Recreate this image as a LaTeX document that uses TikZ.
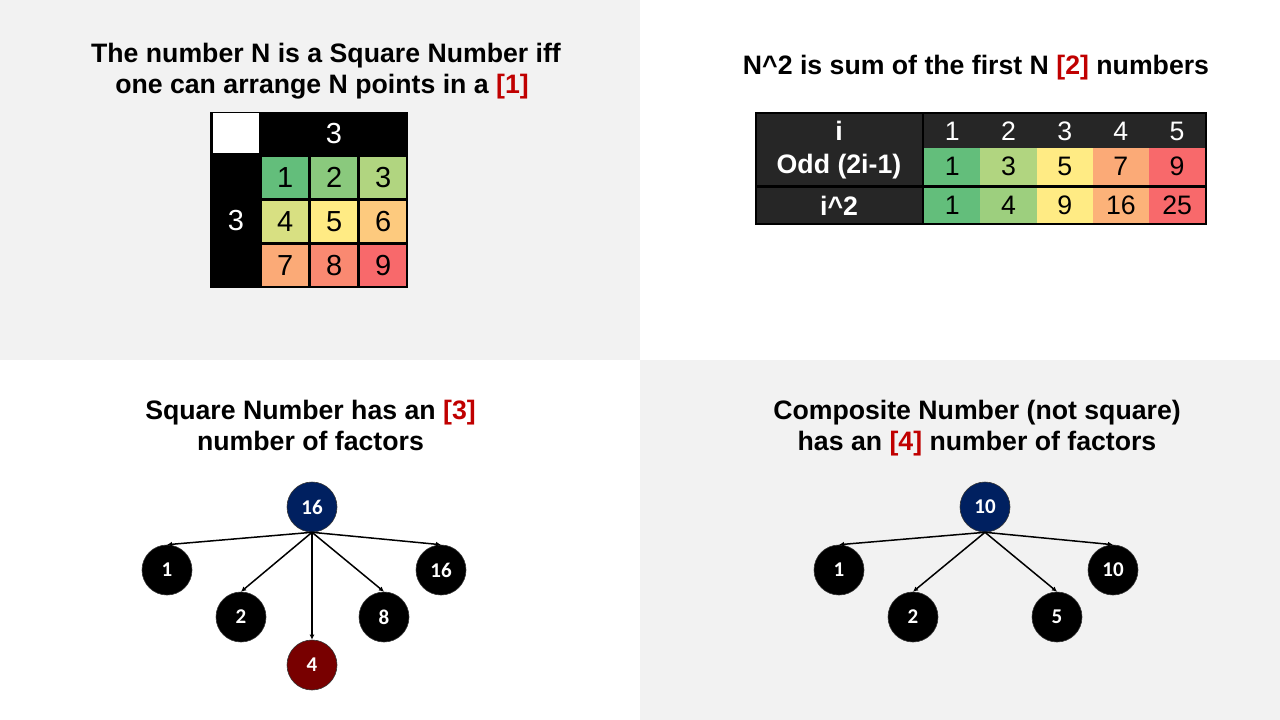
\documentclass[tikz,border=0pt]{standalone}
\usepackage{fontspec}
\setmainfont{Liberation Sans}
\newfontfamily\calfont{Carlito}
\usetikzlibrary{arrows.meta}
\definecolor{panelgray}{HTML}{F2F2F2}
\definecolor{hilite}{HTML}{C00000}
\definecolor{tabdark}{HTML}{262626}
\definecolor{navy}{HTML}{002060}
\definecolor{maroon}{HTML}{780000}
\definecolor{cA}{HTML}{63BE7B}
\definecolor{cB}{HTML}{8AC97D}
\definecolor{cC}{HTML}{B1D580}
\definecolor{cD}{HTML}{D8E082}
\definecolor{cE}{HTML}{FFEB84}
\definecolor{cF}{HTML}{FDCA7E}
\definecolor{cG}{HTML}{FBAA77}
\definecolor{cH}{HTML}{FA8971}
\definecolor{cI}{HTML}{F8696B}
\definecolor{cJ}{HTML}{9DCF7E}
\definecolor{cK}{HTML}{FCB279}
\tikzset{
  title/.style={anchor=base, inner sep=0pt, font=\fontsize{26.67}{30}\selectfont\bfseries},
  gridcell/.style={minimum width=46pt, minimum height=41pt, inner sep=0pt, anchor=north west, font=\fontsize{29}{32}\selectfont},
  tabcell/.style={minimum width=56.2pt, inner sep=0pt, anchor=north west, font=\fontsize{26.7}{30}\selectfont},
  tablabel/.style={inner sep=0pt, text=white, font=\fontsize{26.7}{30}\selectfont\bfseries},
  treenode/.style={circle, minimum size=50pt, inner sep=0pt, fill=black, draw=black!80, line width=0.6pt, text=white, font=\calfont\fontsize{21}{24}\selectfont\bfseries},
  tree/.style={-{Latex[length=5pt,width=5pt]}, line width=1.5pt, black},
}
\begin{document}
\begin{tikzpicture}[x=1pt,y=-1pt]
\useasboundingbox (0,0) rectangle (1280,720);
\fill[panelgray] (0,0) rectangle (640,360);
\fill[panelgray] (640,360) rectangle (1280,720);

% ---- top-left: titles
\node[title] (t1a) at (326,62) {The number N is a Square Number iff};
\node[title] (t1b) at (322,93) {one can arrange N points in a \textcolor{hilite}{[1]}};

% ---- grid
\fill[black] (210,112) rectangle (408,288);
\fill[white] (213,113) rectangle (259,153);
\node[inner sep=0pt, text=white, font=\fontsize{29}{32}\selectfont] (gtop) at (334,134) {3};
\node[inner sep=0pt, text=white, font=\fontsize{29}{32}\selectfont] (gleft) at (236,221) {3};
\node[gridcell, fill=cA] (g1) at (262,157) {1};
\node[gridcell, fill=cB] (g2) at (311,157) {2};
\node[gridcell, fill=cC] (g3) at (360,157) {3};
\node[gridcell, fill=cD] (g4) at (262,201) {4};
\node[gridcell, fill=cE] (g5) at (311,201) {5};
\node[gridcell, fill=cF] (g6) at (360,201) {6};
\node[gridcell, fill=cG] (g7) at (262,245) {7};
\node[gridcell, fill=cH] (g8) at (311,245) {8};
\node[gridcell, fill=cI] (g9) at (360,245) {9};

% ---- top-right title
\node[title] (t2) at (976,74) {N\^{}2 is sum of the first N \textcolor{hilite}{[2]} numbers};

% ---- table
\fill[tabdark] (756,113) rectangle (1206,224);
\node[tabcell, minimum height=37pt, fill=cA] (o1) at (924,148) {1};
\node[tabcell, minimum height=37pt, fill=cC] (o2) at (980.2,148) {3};
\node[tabcell, minimum height=37pt, fill=cE] (o3) at (1036.4,148) {5};
\node[tabcell, minimum height=37pt, fill=cG] (o4) at (1092.6,148) {7};
\node[tabcell, minimum height=37pt, fill=cI] (o5) at (1148.8,148) {9};
\node[tabcell, minimum height=35pt, fill=cA] (s1) at (924,188) {1};
\node[tabcell, minimum height=35pt, fill=cJ] (s2) at (980.2,188) {4};
\node[tabcell, minimum height=35pt, fill=cE] (s3) at (1036.4,188) {9};
\node[tabcell, minimum height=35pt, fill=cK] (s4) at (1092.6,188) {16};
\node[tabcell, minimum height=35pt, fill=cI] (s5) at (1148.8,188) {25};
\node[tabcell, minimum height=34pt, text=white] (h1) at (924,114) {1};
\node[tabcell, minimum height=34pt, text=white] (h2) at (980.2,114) {2};
\node[tabcell, minimum height=34pt, text=white] (h3) at (1036.4,114) {3};
\node[tabcell, minimum height=34pt, text=white] (h4) at (1092.6,114) {4};
\node[tabcell, minimum height=34pt, text=white] (h5) at (1148.8,114) {5};
\node[tablabel] (li) at (839,131) {i};
\node[tablabel] (lo) at (839,167) {Odd (2i-1)};
\node[tablabel] (ls) at (839,206) {i\^{}2};
\draw[black, line width=2.5pt] (923,113) -- (923,224);
\draw[black, line width=2.5pt] (756,186.5) -- (1206,186.5);
\draw[black, line width=2pt] (756,113) rectangle (1206,224);

% ---- bottom-left
\node[title] (t3a) at (310.5,419) {Square Number has an \textcolor{hilite}{[3]}};
\node[title] (t3b) at (310.5,450) {number of factors};
\node[treenode, fill=navy] (r16) at (312,507) {16};
\node[treenode] (a1) at (167,570) {1};
\node[treenode] (a2) at (241,617) {2};
\node[treenode, fill=maroon] (a4) at (312,665) {4};
\node[treenode] (a8) at (384,617) {8};
\node[treenode] (a16) at (441,570) {16};
\foreach \c in {a1,a2,a4,a8,a16} \draw[tree] (r16.south) -- (\c.north);

% ---- bottom-right
\node[title] (t4a) at (977,419) {Composite Number (not square)};
\node[title] (t4b) at (977,450) {has an \textcolor{hilite}{[4]} number of factors};
\node[treenode, fill=navy] (r10) at (985,507) {10};
\node[treenode] (b1) at (839,570) {1};
\node[treenode] (b2) at (913,617) {2};
\node[treenode] (b5) at (1057,617) {5};
\node[treenode] (b10) at (1113,570) {10};
\foreach \c in {b1,b2,b5,b10} \draw[tree] (r10.south) -- (\c.north);
\end{tikzpicture}
\end{document}
